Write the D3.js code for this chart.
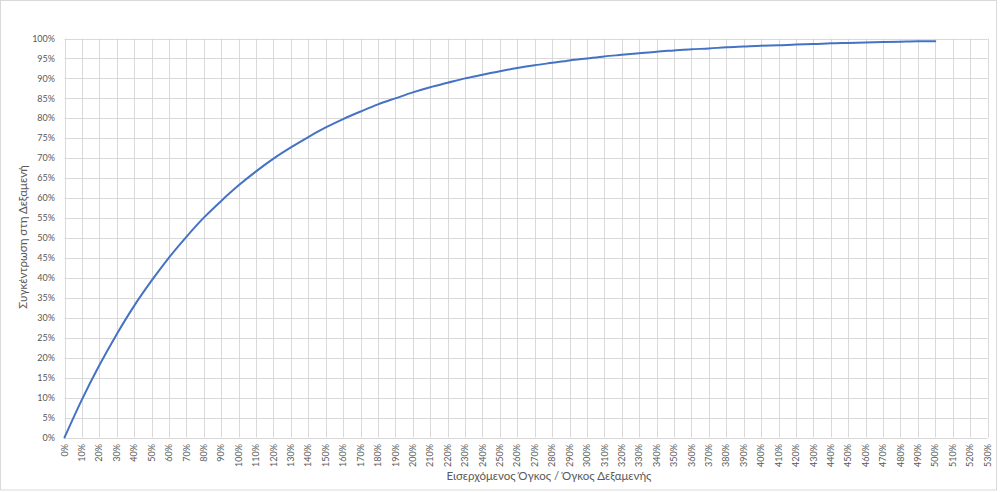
<!DOCTYPE html>
<html><head><meta charset="utf-8">
<script src="https://cdn.jsdelivr.net/npm/d3@7"></script>
<style>body{margin:0;background:#fff;}svg{display:block;font-family:Lato,"Open Sans",sans-serif;}</style>
</head><body>
<svg id="c" width="1000" height="492"></svg>
<script>
// Data
const xValues = [0,10,20,30,40,50,60,70,80,90,100,110,120,130,140,150,160,170,180,190,200,210,220,230,240,250,260,270,280,290,300,310,320,330,340,350,360,370,380,390,400,410,420,430,440,450,460,470,480,490,500];
const yValues = [0,9.5,18.1,25.9,33.0,39.3,45.1,50.3,55.1,59.3,63.2,66.7,69.9,72.7,75.3,77.7,79.8,81.7,83.5,85.0,86.5,87.8,88.9,90.0,90.9,91.8,92.6,93.3,93.9,94.5,95.0,95.5,95.9,96.3,96.7,97.0,97.3,97.5,97.8,98.0,98.2,98.3,98.5,98.6,98.8,98.9,99.0,99.1,99.2,99.3,99.3];
const xTicks = d3.range(0, 531, 10);
const yTicks = d3.range(0, 101, 5);
const xTitle = "Εισερχόμενος Όγκος / Όγκος Δεξαμενής";
const yTitle = "Συγκέντρωση στη Δεξαμενή";

const svg = d3.select("#c");
const L = 64.5, R = 987.5, T = 38.5, B = 437.5;
const x = d3.scaleLinear().domain([0, 530]).range([L, R]);
const y = d3.scaleLinear().domain([0, 100]).range([B, T]);

// outer border
svg.append("rect").attr("x",0.5).attr("y",0.5).attr("width",996).attr("height",489.5)
  .attr("fill","none").attr("stroke","#d9d9d9");

// grid
const g = svg.append("g");
g.selectAll("line.v").data(xTicks).join("line")
  .attr("x1",d=>Math.round(x(d))+0.5).attr("x2",d=>Math.round(x(d))+0.5)
  .attr("y1",T).attr("y2",B).attr("stroke","#d9d9d9").attr("stroke-width",1);
g.selectAll("line.h").data(yTicks).join("line")
  .attr("y1",d=>Math.round(y(d))+0.5).attr("y2",d=>Math.round(y(d))+0.5)
  .attr("x1",L).attr("x2",R).attr("stroke","#d9d9d9").attr("stroke-width",1);

// y axis labels
svg.append("g").selectAll("text").data(yTicks).join("text")
  .attr("x",55).attr("y",d=>y(d)).attr("dy","0.35em")
  .attr("text-anchor","end").attr("font-size",9).attr("fill","#595959")
  .text(d=>d+"%");

// x axis labels
svg.append("g").selectAll("text").data(xTicks).join("text")
  .attr("transform",d=>`translate(${x(d)},444) rotate(-90)`)
  .attr("dy","0.35em").attr("text-anchor","end").attr("font-size",9).attr("fill","#595959")
  .text(d=>d+"%");

// line
const line = d3.line().x((d,i)=>x(xValues[i])).y(d=>y(d)).curve(d3.curveMonotoneX);
svg.append("path").datum(yValues).attr("d",line)
  .attr("fill","none").attr("stroke","#4472C4").attr("stroke-width",2).attr("stroke-linecap","round");

// titles
svg.append("text").attr("x",549).attr("y",480).attr("text-anchor","middle")
  .attr("font-size",11.5).attr("fill","#595959").text(xTitle);
svg.append("text").attr("transform","translate(27,237) rotate(-90)")
  .attr("text-anchor","middle").attr("font-size",11.5).attr("fill","#595959").text(yTitle);
</script>
</body></html>
